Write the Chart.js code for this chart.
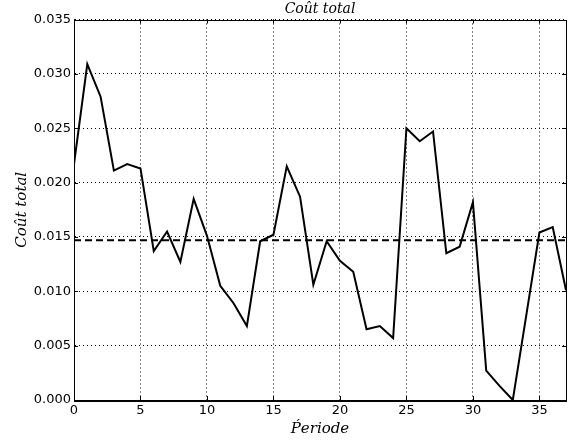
<!DOCTYPE html>
<html>
<head>
<meta charset="utf-8">
<script src="https://cdn.jsdelivr.net/npm/chart.js@4"></script>
<style>
  html, body { margin: 0; padding: 0; background: #fff; }
  #wrap { width: 578px; height: 443px; }
</style>
</head>
<body>
<div id="wrap"><canvas id="myChart" width="578" height="443"></canvas></div>
<script>
// periods 0..37 and total cost per period
const periods = [0, 1, 2, 3, 4, 5, 6, 7, 8, 9, 10, 11, 12, 13, 14, 15, 16, 17, 18, 19,
    20, 21, 22, 23, 24, 25, 26, 27, 28, 29, 30, 31, 32, 33, 34, 35, 36, 37];
const cost = [0.0217, 0.0309, 0.0279, 0.0211, 0.0217, 0.0213, 0.0137, 0.0155, 0.0127, 0.0185,
    0.0151, 0.0105, 0.0089, 0.0068, 0.0146, 0.0152, 0.0215, 0.0187, 0.0106, 0.0146,
    0.0128, 0.0118, 0.0065, 0.0068, 0.0057, 0.0250, 0.0238, 0.0247, 0.0135, 0.0141,
    0.0182, 0.0027, 0.0013, 0.0000, 0.0077, 0.0154, 0.0159, 0.0101];
const meanCost = 0.0147;
const xTicks = [0, 5, 10, 15, 20, 25, 30, 35];
const yTicks = [0, 0.005, 0.01, 0.015, 0.02, 0.025, 0.03, 0.035];
const chartTitle = 'Coût total';

const serif = "'DejaVu Serif', 'Liberation Serif', serif";
const sans = "'DejaVu Sans', sans-serif";

// solid frame + small inward ticks, and the title centred over the plot
const framePlugin = {
    id: 'frame',
    afterDraw(chart) {
        const { ctx, chartArea: a, scales } = chart;
        ctx.save();
        ctx.setLineDash([]);
        ctx.strokeStyle = '#000';
        ctx.lineWidth = 1;
        ctx.beginPath();
        xTicks.forEach(v => {
            const px = Math.round(scales.x.getPixelForValue(v)) + 0.5;
            ctx.moveTo(px, a.bottom); ctx.lineTo(px, a.bottom - 4);
            ctx.moveTo(px, a.top); ctx.lineTo(px, a.top + 4);
        });
        yTicks.forEach(v => {
            const py = Math.round(scales.y.getPixelForValue(v)) + 0.5;
            ctx.moveTo(a.left, py); ctx.lineTo(a.left + 4, py);
            ctx.moveTo(a.right, py); ctx.lineTo(a.right - 4, py);
        });
        ctx.stroke();
        ctx.strokeRect(Math.round(a.left) + 0.5, Math.round(a.top) + 0.5,
            Math.round(a.right - a.left), Math.round(a.bottom - a.top));

        ctx.fillStyle = '#000';
        ctx.font = 'italic 14px ' + serif;
        ctx.textAlign = 'center';
        ctx.textBaseline = 'middle';
        ctx.fillText(chartTitle, (a.left + a.right) / 2, 9);
        ctx.restore();
    }
};

const ctx = document.getElementById('myChart').getContext('2d');

let myChart = new Chart(ctx, {
    type: 'line',
    data: {
        datasets: [{
            data: periods.map((p, i) => ({ x: p, y: cost[i] })),
            borderColor: '#000',
            borderWidth: 2,
            pointRadius: 0,
            tension: 0
        }, {
            // mean level, dashed
            data: [{ x: periods[0], y: meanCost }, { x: periods[periods.length - 1], y: meanCost }],
            borderColor: '#000',
            borderWidth: 2,
            borderDash: [7, 4],
            pointRadius: 0
        }]
    },
    options: {
        responsive: false,
        animation: false,
        layout: { padding: { left: 0, right: 12, top: 19.5, bottom: 0 } },
        plugins: {
            legend: { display: false },
            tooltip: { enabled: false },
            title: { display: false }
        },
        scales: {
            x: {
                type: 'linear',
                min: 0,
                max: 37,
                afterBuildTicks: axis => { axis.ticks = xTicks.map(v => ({ value: v })); },
                afterFit: axis => { axis.height = 43; },
                grid: {
                    color: '#000',
                    lineWidth: 1,
                    tickLength: 0
                },
                border: { color: '#000', width: 1, dash: [1, 3] },
                ticks: {
                    color: '#000',
                    padding: 3,
                    maxRotation: 0,
                    font: { family: sans, size: 13 }
                },
                title: {
                    display: true,
                    text: 'P\u0301eriode',
                    color: '#000',
                    font: { family: serif, size: 15, style: 'italic' },
                    padding: { top: 0, bottom: 5 }
                }
            },
            y: {
                min: 0,
                max: 0.035,
                afterBuildTicks: axis => { axis.ticks = yTicks.map(v => ({ value: v })); },
                afterFit: axis => { axis.width = 74; },
                grid: {
                    color: '#000',
                    lineWidth: 1,
                    tickLength: 0
                },
                border: { color: '#000', width: 1, dash: [1, 3] },
                ticks: {
                    color: '#000',
                    padding: 3,
                    font: { family: sans, size: 13 },
                    callback: v => v.toFixed(3)
                },
                title: {
                    display: true,
                    text: 'Coût total',
                    color: '#000',
                    font: { family: serif, size: 15, style: 'italic' },
                    padding: { top: 13, bottom: 0 }
                }
            }
        }
    },
    plugins: [framePlugin]
});
</script>
</body>
</html>
